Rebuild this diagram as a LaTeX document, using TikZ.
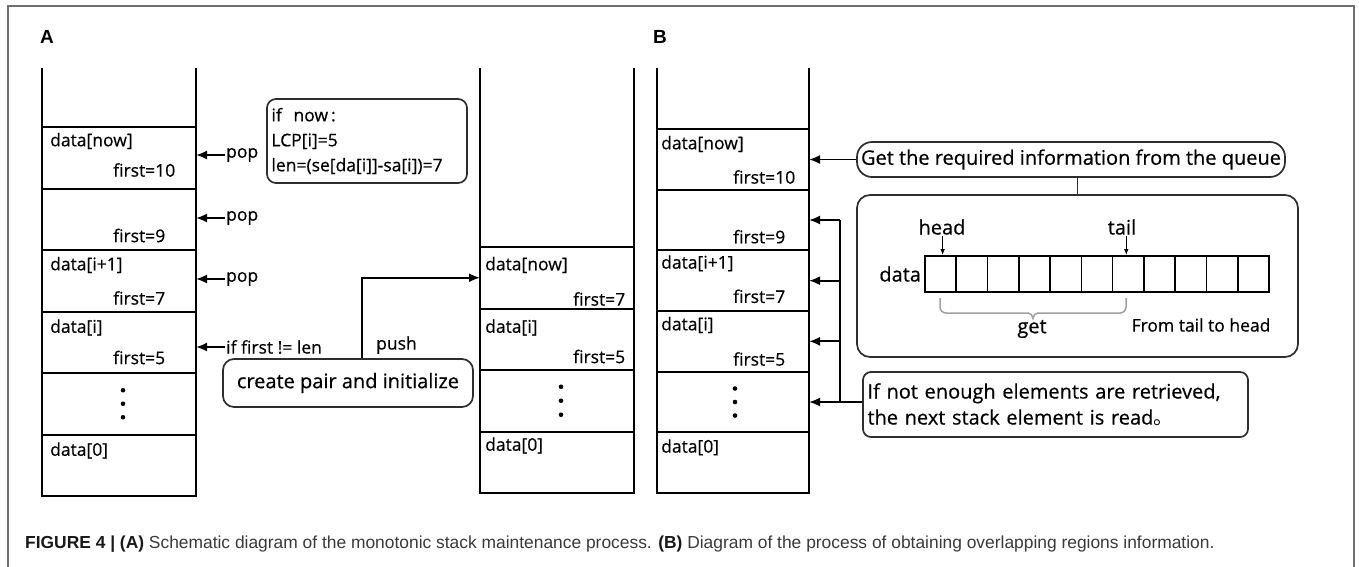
\documentclass[tikz,border=0pt]{standalone}
\usepackage{fontspec}
\setmainfont{Open Sans}[FakeBold=0.5]
\newfontfamily\cjk{Noto Sans CJK SC}
\newfontfamily\capfont{Liberation Sans}
\usetikzlibrary{arrows.meta,calc}
\definecolor{framegray}{HTML}{707070}
\definecolor{boxgray}{HTML}{2E2E2E}
\definecolor{bracegray}{HTML}{A0A0A0}
\definecolor{captext}{HTML}{3A3A3A}
\begin{document}
\begin{tikzpicture}[x=1pt,y=-1pt,
  stackline/.style={line width=2pt, draw=black},
  cell/.style={draw=black, line width=2pt, inner sep=0pt, outer sep=0pt},
  txt/.style={inner sep=0pt, font=\fontsize{17.5}{21}\selectfont, anchor=west},
  bigtxt/.style={inner sep=0pt, font=\fontsize{20}{24}\selectfont},
  rbox/.style={draw=boxgray, line width=1.7pt, rounded corners=9pt, inner sep=0pt},
  arr/.style={line width=1.8pt, draw=black, -{Latex[length=11pt,width=9pt]}},
  thinarr/.style={line width=1pt, draw=black, -{Latex[length=6pt,width=4.5pt]}},
  qcell/.style={draw=black, line width=1.7pt, inner sep=0pt, minimum width=31.27pt, minimum height=36pt},
  braceline/.style={draw=bracegray, line width=1.5pt},
  dotmark/.style={circle, fill=black, inner sep=0pt, minimum size=4.6pt},
  panel/.style={inner sep=0pt, font=\capfont\bfseries\fontsize{19}{22}\selectfont}
]
\fill[white] (0,0) rectangle (1359,567);
\useasboundingbox (0,0) rectangle (1359,567);
% frame
\draw[framegray, line width=1.6pt] (8,575) -- (8,6) -- (1354,6) -- (1354,575);
% panel labels
\node[panel] (labA) at (47,37) {A};
\node[panel] (labB) at (660,37) {B};
\coordinate (top) at (0,68);

% ---------- Stack A ----------
\foreach \k in {1,...,6}
  \node[cell, minimum width=154pt, minimum height=61.5pt] (A\k) at (119,{127+61.5*(\k-0.5)}) {};
\draw[stackline] (A1.north west) -- (A1.north west |- top);
\draw[stackline] (A1.north east) -- (A1.north east |- top);
\node[txt] at ([xshift=8pt,yshift=-14pt]A1.north west) {data[now]};
\node[txt] at ([xshift=71pt,yshift=-43pt]A1.north west) {first=10};
\node[txt] at ([xshift=71pt,yshift=-47pt]A2.north west) {first=9};
\node[txt] at ([xshift=8pt,yshift=-15pt]A3.north west) {data[i+1]};
\node[txt] at ([xshift=71pt,yshift=-48pt]A3.north west) {first=7};
\node[txt] at ([xshift=8pt,yshift=-16pt]A4.north west) {data[i]};
\node[txt] at ([xshift=71pt,yshift=-46pt]A4.north west) {first=5};
\node[dotmark] at ([xshift=4pt,yshift=13.5pt]A5.center) {};
\node[dotmark] at ([xshift=4pt]A5.center) {};
\node[dotmark] at ([xshift=4pt,yshift=-13.5pt]A5.center) {};
\node[txt] at ([xshift=8pt,yshift=-16pt]A6.north west) {data[0]};

% pop arrows
\node[txt] (pop1) at (226,155) {pop};
\node[txt] (pop2) at (226,218) {pop};
\node[txt] (pop3) at (226,279) {pop};
\node[txt] (iff) at (226,347) {if first != len};
\foreach \p in {pop1,pop2,pop3,iff}
  \draw[arr] ([xshift=-1pt]\p.west) -- (\p.west -| A1.east);

% if now box
\node[rbox, minimum width=200pt, minimum height=84pt, text width=191pt, align=left,
      font=\fontsize{17.5}{25}\selectfont] (ifnow) at (367,141)
  {if~~now\,:\\LCP[i]=5\\len=(se[da[i]]-sa[i])=7};

% create pair box
\node[rbox, bigtxt, rounded corners=11pt, minimum width=250pt, minimum height=48pt] (cp) at (348,383) {create pair and initialize};

% ---------- Middle stack ----------
\foreach \k in {1,...,4}
  \node[cell, minimum width=154pt, minimum height=61.5pt] (M\k) at (557,{247+61.5*(\k-0.5)}) {};
\draw[stackline] (M1.north west) -- (M1.north west |- top);
\draw[stackline] (M1.north east) -- (M1.north east |- top);
\node[txt] at ([xshift=5pt,yshift=-18pt]M1.north west) {data[now]};
\node[txt] at ([xshift=93pt,yshift=-52pt]M1.north west) {first=7};
\node[txt] at ([xshift=5pt,yshift=-19pt]M2.north west) {data[i]};
\node[txt] at ([xshift=93pt,yshift=-48pt]M2.north west) {first=5};
\node[dotmark] at ([xshift=4pt,yshift=14pt]M3.center) {};
\node[dotmark] at ([xshift=4pt]M3.center) {};
\node[dotmark] at ([xshift=4pt,yshift=-14pt]M3.center) {};
\node[txt] at ([xshift=5pt,yshift=-14pt]M4.north west) {data[0]};

% push connector
\coordinate (pturn) at (362,0);
\draw[arr] (cp.north -| pturn) |- (M1.west);
\node[txt] (push) at (376,345) {push};

% ---------- Stack B ----------
\foreach \k in {1,...,6}
  \node[cell, minimum width=152pt, minimum height=60.67pt] (B\k) at (733,{129+60.67*(\k-0.5)}) {};
\draw[stackline] (B1.north west) -- (B1.north west |- top);
\draw[stackline] (B1.north east) -- (B1.north east |- top);
\node[txt] at ([xshift=4pt,yshift=-15pt]B1.north west) {data[now]};
\node[txt] at ([xshift=76pt,yshift=-48pt]B1.north west) {first=10};
\node[txt] at ([xshift=76pt,yshift=-47pt]B2.north west) {first=9};
\node[txt] at ([xshift=4pt,yshift=-13pt]B3.north west) {data[i+1]};
\node[txt] at ([xshift=76pt,yshift=-46pt]B3.north west) {first=7};
\node[txt] at ([xshift=4pt,yshift=-14pt]B4.north west) {data[i]};
\node[txt] at ([xshift=76pt,yshift=-48pt]B4.north west) {first=5};
\node[dotmark] at ([xshift=2pt,yshift=13.5pt]B5.center) {};
\node[dotmark] at ([xshift=2pt]B5.center) {};
\node[dotmark] at ([xshift=2pt,yshift=-13.5pt]B5.center) {};
\node[txt] at ([xshift=4pt,yshift=-15pt]B6.north west) {data[0]};

% get box
\node[rbox, bigtxt, rounded corners=15pt, minimum width=428pt, minimum height=35pt] (getq) at (1071,159.5) {Get the required information from the queue};
\draw[arr] (getq.west) -- (getq.west -| B1.east);

% queue box
\node[rbox, rounded corners=13pt, minimum width=441pt, minimum height=162pt] (qbox) at (1077.5,276) {};
\draw[draw=boxgray, line width=1.7pt] (qbox.north) -- (qbox.north |- getq.south);

\foreach \k in {1,...,11}
  \node[qcell] (q\k) at ({925+31.27*(\k-0.5)},274) {};
\node[bigtxt, anchor=east] (dlab) at ([xshift=-3pt]q1.west) {data};
\node[bigtxt] (head) at (942,227) {head};
\node[bigtxt] (tail) at (1122,227) {tail};
\draw[thinarr] ($(q1.north)+(2,-19)$) -- ([xshift=2pt]q1.north);
\draw[thinarr] ($(q7.north)+(-2,-19)$) -- ([xshift=-2pt]q7.north);

% brace
\draw[braceline, rounded corners=6pt] (940,298) -- (940,313) -- (1029,313);
\draw[braceline, rounded corners=6pt] (1126,298) -- (1126,313) -- (1037,313);
\draw[braceline] (1028,313) to[out=0,in=95] (1033,318.5) to[out=85,in=180] (1038,313);
\node[bigtxt] (getlab) at (1032,329) {get};
\node[inner sep=0pt, font=\fontsize{17.5}{20}\selectfont] (fromlab) at (1201,325) {From tail to head};

% if not enough box
\node[rbox, rounded corners=8pt, minimum width=385pt, minimum height=65pt, text width=376pt, align=left,
      font=\fontsize{20}{26}\selectfont] (ifne) at (1055.5,404.5)
  {If not enough elements are retrieved,\\the next stack element is read{\cjk 。}};

% bracket connectors
\coordinate (br) at (840,0);
\draw[line width=1.8pt] (br |- B2) -- (br |- B5);
\foreach \k in {2,3,4}
  \draw[arr] (br |- B\k) -- (B\k.east);
\draw[arr] (ifne.west |- B5) -- (B5.east);

% caption
\node[anchor=west, inner sep=0pt, text=captext, font=\capfont\fontsize{17.4}{20}\selectfont] (cap) at (25,544)
  {\textcolor{black!90}{\textbf{FIGURE 4 | (A)}} Schematic diagram of the monotonic stack maintenance process. \textcolor{black!90}{\textbf{(B)}} Diagram of the process of obtaining overlapping regions information.};
\end{tikzpicture}
\end{document}
